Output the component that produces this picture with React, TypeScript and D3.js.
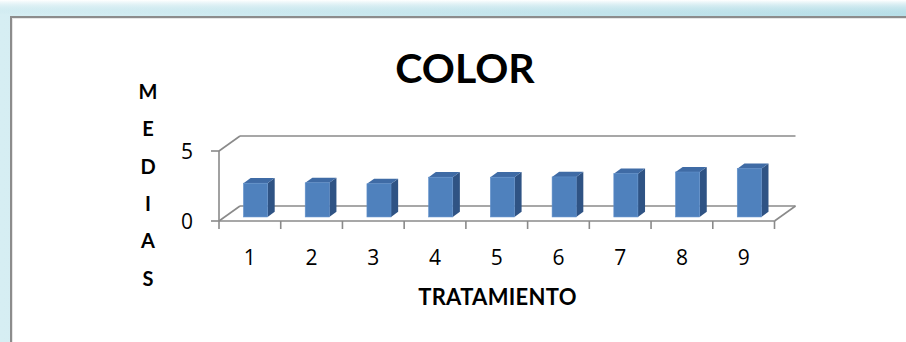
import * as d3 from "d3";

const categories = ["1", "2", "3", "4", "5", "6", "7", "8", "9"];
const medias = [2.41, 2.44, 2.37, 2.84, 2.84, 2.86, 3.09, 3.21, 3.45];
const yTicks = [0, 5];
const yTitle = ["M", "E", "D", "I", "A", "S"];

const W = 906;
const H = 342;
const FONT = "Lato, 'Open Sans', sans-serif";
const NUM_FONT = "'Open Sans', 'Noto Sans', sans-serif";

// plot frame (front plane) and 3D depth offset
const X0 = 219;
const X1 = 774.5;
const Y0 = 221;
const Y1 = 151;
const DX = 21;
const DY = -15;
const BAR_FRONT = 0.27; // depth fraction where bars start
const BAR_DEPTH = 0.34;
const BAR_WIDTH = 0.39;

const GRID = "#8a8a8a";

export default function App() {
  const x = d3.scaleBand<string>().domain(categories).range([X0, X1]).padding(0);
  const y = d3.scaleLinear().domain([0, 5]).range([Y0, Y1]);
  const bw = x.bandwidth();

  const bars = categories.map((c, i) => {
    const cx = (x(c) ?? 0) + bw / 2 + BAR_FRONT * DX;
    const w = bw * BAR_WIDTH;
    const left = cx - w / 2;
    const bottom = Y0 + BAR_FRONT * DY;
    const top = bottom - (y(0) - y(medias[i]));
    const ddx = BAR_DEPTH * DX;
    const ddy = BAR_DEPTH * DY;
    return { c, left, w, bottom, top, ddx, ddy };
  });

  const tickXs = categories.map((c) => x(c) ?? 0).concat([X1]);

  return (
    <div style={{ position: "absolute", left: 0, top: 0 }}>
      <svg width={W} height={H} style={{ display: "block" }}>
        <defs>
          <linearGradient id="topGlow" x1="0" y1="0" x2="0" y2="1">
            <stop offset="0" stopColor="#ffffff" />
            <stop offset="0.85" stopColor="#b8dfe8" stopOpacity="0" />
          </linearGradient>
          <linearGradient id="leftGlow" x1="0" y1="0" x2="1" y2="0">
            <stop offset="0" stopColor="#d6eef3" />
            <stop offset="1" stopColor="#b8dfe8" />
          </linearGradient>
        </defs>

        {/* outer glow frame */}
        <rect x={0} y={0} width={W} height={H} fill="url(#leftGlow)" />
        <rect x={0} y={0} width={W} height={17} fill="url(#topGlow)" />
        <rect x={10} y={16} width={W - 10} height={H - 16} fill="#8c8c8c" />
        <rect x={12} y={18} width={W - 12} height={H - 18} fill="#e6e6e6" />
        <rect x={13} y={19} width={W - 13} height={H - 19} fill="#ffffff" />

        {/* title */}
        <text x={465} y={83} textAnchor="middle" fontFamily={FONT} fontWeight="bold" fontSize={41} fill="#000">
          COLOR
        </text>

        {/* vertical axis title, stacked letters */}
        {yTitle.map((ch, i) => (
          <text
            key={ch + i}
            x={148}
            y={99 + i * 37.3}
            textAnchor="middle"
            fontFamily={FONT}
            fontWeight="bold"
            fontSize={20}
            fill="#000"
          >
            {ch}
          </text>
        ))}

        {/* walls / floor outline */}
        <g stroke={GRID} strokeWidth={1.6} fill="none">
          <line x1={X0 + DX} y1={y(5) + DY} x2={X1 + DX} y2={y(5) + DY} />
          <line x1={X0} y1={y(5)} x2={X0 + DX} y2={y(5) + DY} />
          <line x1={X0 + DX} y1={Y0 + DY} x2={X1 + DX} y2={Y0 + DY} />
          <line x1={X0} y1={Y0} x2={X0 + DX} y2={Y0 + DY} />
          <line x1={X1} y1={Y0} x2={X1 + DX} y2={Y0 + DY} />
          <line x1={X0} y1={Y0} x2={X0} y2={y(5)} />
          <line x1={X0} y1={Y0} x2={X1} y2={Y0} />
          {yTicks.map((t) => (
            <line key={t} x1={X0 - 8} y1={y(t)} x2={X0} y2={y(t)} />
          ))}
          {tickXs.map((tx, i) => (
            <line key={i} x1={tx} y1={Y0} x2={tx} y2={Y0 + 8} />
          ))}
        </g>

        {/* bars */}
        {bars.map((b) => (
          <g key={b.c}>
            <polygon
              points={`${b.left + b.w},${b.top} ${b.left + b.w + b.ddx},${b.top + b.ddy} ${b.left + b.w + b.ddx},${b.bottom + b.ddy} ${b.left + b.w},${b.bottom}`}
              fill="#2f5384"
            />
            <polygon
              points={`${b.left},${b.top} ${b.left + b.ddx},${b.top + b.ddy} ${b.left + b.w + b.ddx},${b.top + b.ddy} ${b.left + b.w},${b.top}`}
              fill="#3f6ba5"
            />
            <rect x={b.left} y={b.top} width={b.w} height={b.bottom - b.top} fill="#4f81bd" stroke="#5f8fca" strokeWidth={0.6} />
          </g>
        ))}

        {/* y tick labels */}
        {yTicks.map((t) => (
          <text key={t} x={187} y={y(t) + 8} textAnchor="middle" fontFamily={NUM_FONT} fontWeight={400} fontSize={21} fill="#000">
            {t}
          </text>
        ))}

        {/* category labels */}
        {categories.map((c) => (
          <text
            key={c}
            x={(x(c) ?? 0) + bw / 2}
            y={265}
            textAnchor="middle"
            fontFamily={NUM_FONT}
            fontWeight={400}
            fontSize={21}
            fill="#000"
          >
            {c}
          </text>
        ))}

        {/* x axis title */}
        <text
          x={497.5}
          y={305}
          textAnchor="middle"
          fontFamily={FONT}
          fontWeight="bold"
          fontSize={22}
          letterSpacing={0.3}
          fill="#000"
        >
          TRATAMIENTO
        </text>
      </svg>
    </div>
  );
}
